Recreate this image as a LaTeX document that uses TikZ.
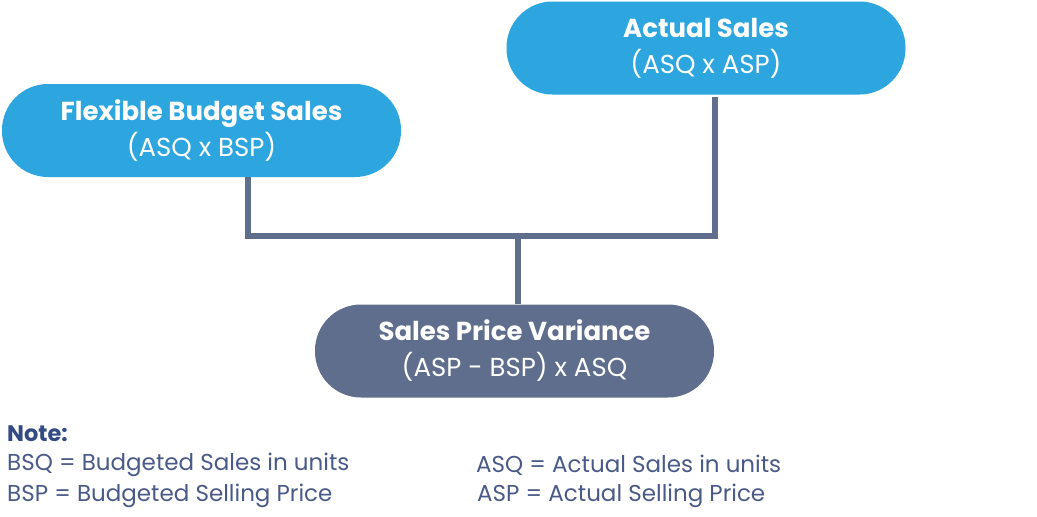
\documentclass[tikz,border=0pt]{standalone}
\usepackage{fontspec}
\setmainfont{Poppins}
\definecolor{boxblue}{HTML}{2DA5DE}
\definecolor{boxslate}{HTML}{5F6E8C}
\definecolor{notenavy}{HTML}{334B82}
\definecolor{notetext}{HTML}{4A5A88}
\begin{document}
\begin{tikzpicture}[x=1pt,y=-1pt,
  pill/.style={rounded corners=46pt, minimum width=399pt, minimum height=93pt,
    inner sep=0pt, text=white, align=center, font=\fontsize{26}{36}\selectfont},
  conn/.style={draw=boxslate, line width=6pt, line join=miter},
  notefont/.style={anchor=west, inner sep=0pt, text=notetext, font=\fontsize{23}{26}\selectfont}]
\useasboundingbox (0,0) rectangle (1037,517);
\node[pill, fill=boxblue] (fbs) at (201.5,130.5) {\textbf{Flexible Budget Sales}\\(ASQ x BSP)};
\node[pill, fill=boxblue] (as) at (706,48) {\textbf{Actual Sales}\\(ASQ x ASP)};
\node[pill, fill=boxslate] (spv) at (514.5,351) {\textbf{Sales Price Variance}\\(ASP - BSP) x ASQ};
\coordinate (jl) at (248,236);
\coordinate (jr) at (715,236);
\coordinate (jm) at (518,236);
\draw[conn] (jl |- fbs.south) -- (jl) -- (jr) -- ([yshift=-2pt]jr |- as.south);
\draw[conn] (jm) -- (jm |- spv.north);
\node[notefont, text=notenavy, font=\bfseries\fontsize{22.5}{26}\selectfont] (note) at (7,434) {Note:};
\node[notefont] (n1) at (7,465) {BSQ = Budgeted Sales in units};
\node[notefont] (n2) at (7,496) {BSP = Budgeted Selling Price};
\node[notefont] (n3) at (476,465) {ASQ = Actual Sales in units};
\node[notefont] (n4) at (477,496) {ASP = Actual Selling Price};
\end{tikzpicture}
\end{document}
